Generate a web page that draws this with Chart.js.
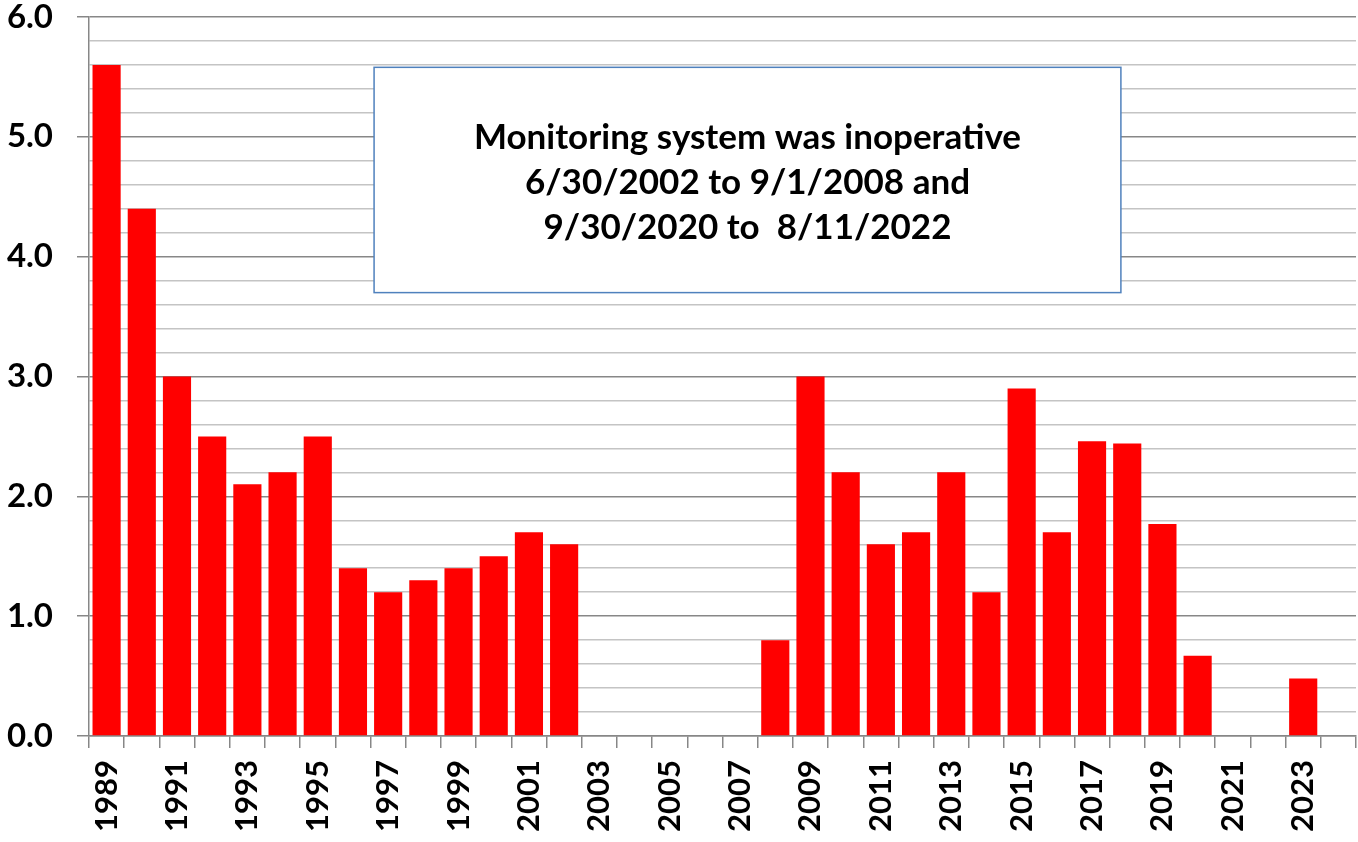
<!DOCTYPE html>
<html>
<head>
<meta charset="utf-8">
<script src="https://cdn.jsdelivr.net/npm/chart.js@4/dist/chart.umd.min.js"></script>
<style>
  html, body { margin: 0; padding: 0; background: #fff; }
  canvas { display: block; }
</style>
</head>
<body>
<canvas id="chart" width="1358" height="842"></canvas>
<script>
const years = [
  '1989', '1990', '1991', '1992', '1993', '1994', '1995', '1996', '1997', '1998',
  '1999', '2000', '2001', '2002', '2003', '2004', '2005', '2006', '2007', '2008',
  '2009', '2010', '2011', '2012', '2013', '2014', '2015', '2016', '2017', '2018',
  '2019', '2020', '2021', '2022', '2023', '2024'
];
// no readings 2003-2007 and 2021-2022 (system down), 2024 not in yet
const values = [
  5.6, 4.4, 3.0, 2.5, 2.1, 2.2, 2.5, 1.4, 1.2, 1.3,
  1.4, 1.5, 1.7, 1.6, null, null, null, null, null, 0.8,
  3.0, 2.2, 1.6, 1.7, 2.2, 1.2, 2.9, 1.7, 2.46, 2.44,
  1.77, 0.67, null, null, 0.48, null
];
const noteLines = [
  'Monitoring system was inoperative',
  '6/30/2002 to 9/1/2008 and',
  '9/30/2020 to  8/11/2022'
];

const FONT = 'Lato, "Liberation Sans", sans-serif';
const AXIS_GREY = '#878787';
const MINOR_GREY = '#c4c4c4';

const isMajor = v => Math.abs(v - Math.round(v)) < 1e-6;

// text box drawn over the grid, behind the bars
const noteBox = {
  id: 'noteBox',
  beforeDatasetsDraw(chart) {
    const { ctx, scales: { x, y } } = chart;
    const left = x.getPixelForValue(7.6);
    const right = x.getPixelForValue(28.82);
    const top = y.getPixelForValue(5.58);
    const bottom = y.getPixelForValue(3.7);
    ctx.save();
    ctx.fillStyle = '#fff';
    ctx.fillRect(left, top, right - left, bottom - top);
    ctx.strokeStyle = '#4f81bd';
    ctx.lineWidth = 1.5;
    ctx.strokeRect(left, top, right - left, bottom - top);
    ctx.fillStyle = '#000';
    ctx.font = 'bold 35px ' + FONT;
    ctx.textAlign = 'center';
    ctx.textBaseline = 'middle';
    const cx = (left + right) / 2;
    const cy = (top + bottom) / 2 + 3;
    noteLines.forEach((line, i) => {
      ctx.fillText(line, cx, cy + (i - 1) * 45);
    });
    ctx.restore();
  }
};

new Chart(document.getElementById('chart'), {
  type: 'bar',
  data: {
    labels: years,
    datasets: [{
      data: values,
      backgroundColor: '#ff0000',
      borderWidth: 0,
      categoryPercentage: 1.0,
      barPercentage: 0.8
    }]
  },
  options: {
    responsive: false,
    animation: false,
    layout: { padding: { top: 17, right: 2, left: 0, bottom: 0 } },
    plugins: {
      legend: { display: false },
      tooltip: { enabled: false }
    },
    scales: {
      x: {
        offset: true,
        grid: {
          offset: true,
          drawOnChartArea: false,
          tickLength: 12,
          color: AXIS_GREY,
          lineWidth: 1.5
        },
        border: { color: AXIS_GREY, width: 1.5 },
        ticks: {
          autoSkip: false,
          minRotation: 90,
          maxRotation: 90,
          padding: 12,
          color: '#000',
          font: { family: FONT, size: 31, weight: 'bold' },
          callback: (v, i) => (i % 2 === 0 ? years[i] : '')
        },
        afterFit: s => {
          s.height = 106;
          s.paddingLeft = 0;
          s.paddingRight = 0;
        }
      },
      y: {
        min: 0,
        max: 6,
        grid: {
          color: c => (isMajor(c.tick.value) ? AXIS_GREY : MINOR_GREY),
          tickColor: c => (isMajor(c.tick.value) ? AXIS_GREY : 'rgba(0,0,0,0)'),
          lineWidth: 1.5,
          tickLength: 12
        },
        border: { color: AXIS_GREY, width: 1.5 },
        ticks: {
          stepSize: 0.2,
          autoSkip: false,
          padding: 24,
          color: '#000',
          font: { family: FONT, size: 33, weight: 'bold' },
          callback: v => (isMajor(v) ? v.toFixed(1) : '')
        },
        afterFit: s => {
          s.width = 89;
          s.paddingTop = 0;
          s.paddingBottom = 0;
        }
      }
    }
  },
  plugins: [noteBox]
});
</script>
</body>
</html>
